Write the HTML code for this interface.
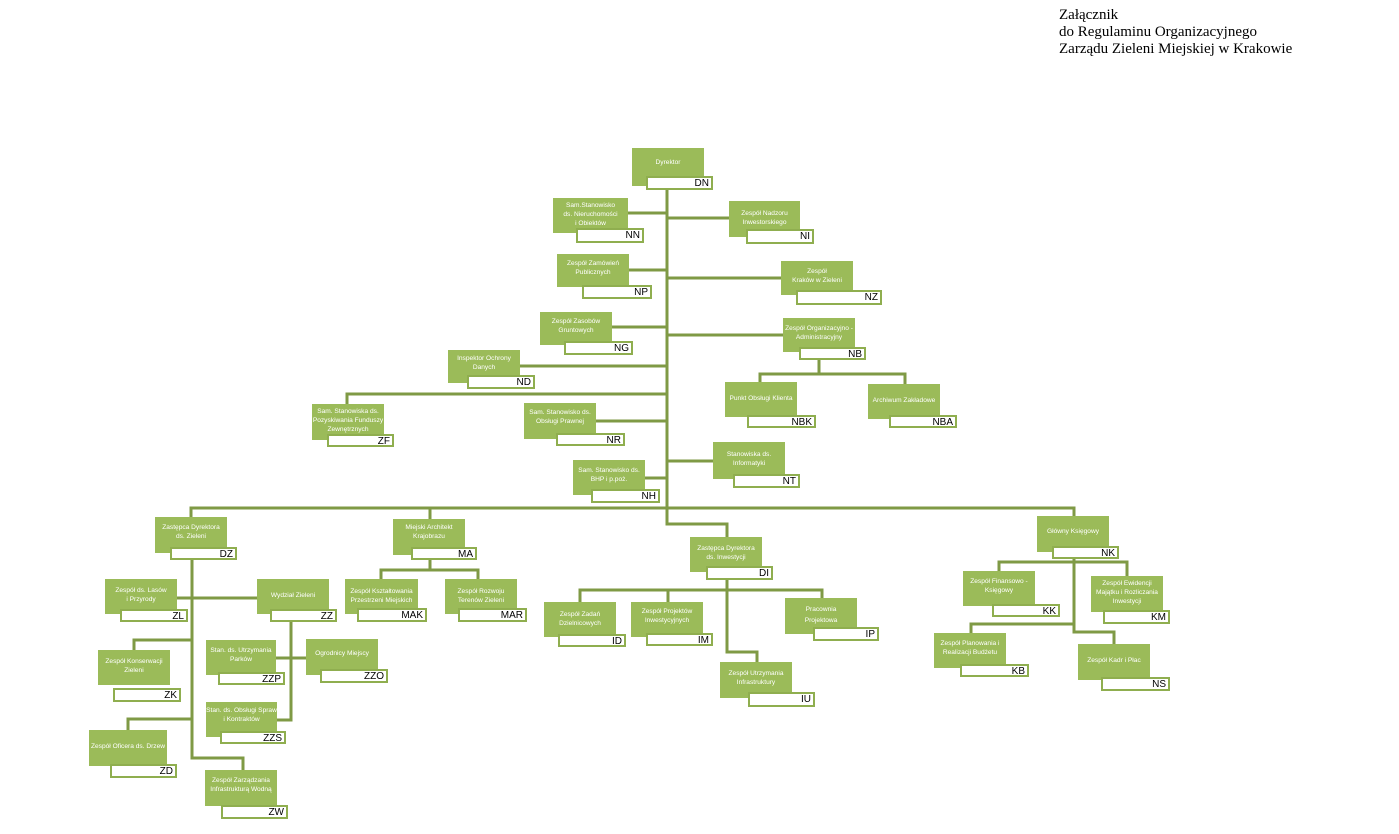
<!DOCTYPE html>
<html><head><meta charset="utf-8"><style>
body{margin:0;width:1399px;height:834px;background:#fff;position:relative;overflow:hidden;font-family:"Liberation Sans",sans-serif}
.h{position:absolute;left:1059px;top:7px;font-family:"Liberation Serif",serif;font-size:15px;line-height:17px;color:#000}
.g{position:absolute;background:#9bbb59;color:#fff;font-size:6.6px;line-height:9px;text-align:center;display:flex;align-items:flex-start;justify-content:center;box-sizing:border-box;padding-top:8px;white-space:nowrap}
.c{position:absolute;background:#fff;border:2px solid #8fae4f;box-sizing:border-box;font-size:10px;line-height:11px;text-align:right;padding-right:2px;color:#000}
svg{position:absolute;left:0;top:0}
</style></head><body>
<div class="h">Załącznik<br>do Regulaminu Organizacyjnego<br>Zarządu Zieleni Miejskiej w Krakowie</div>
<svg width="1399" height="834"><g stroke="#7f9a45" stroke-width="3" fill="none">
<path d="M667 186V524H727V537"/>
<path d="M628 213H667M667 218H729M629 270H667M667 278H781M612 327H667M667 335H783M520 366H667"/>
<path d="M347 404V394H667M596 421H667M667 461H713M645 478H667"/>
<path d="M819 360V374M760 383V374H905V384"/>
<path d="M191 517V508H1074V516M430 508V519"/>
<path d="M192 559V758H243V770M177 598H257M134 650V640H192M128 730V719H192"/>
<path d="M291 622V720H277M276 658H306"/>
<path d="M430 559V570M381 579V570H478V579"/>
<path d="M727 579V590M580 602V590H822V598M668 590V602M727 590V652H757V662"/>
<path d="M1074 559V632H1114V644M999 571V562H1127V576M971 633V624H1074"/>
</g></svg>

<div class="g" style="left:632px;top:148px;width:72px;height:38px;padding-top:10px">Dyrektor</div><div class="c" style="left:646px;top:176px;width:67px;height:14px">DN</div>
<div class="g" style="left:553px;top:198px;width:75px;height:35px;padding-top:3px">Sam.Stanowisko<br>ds. Nieruchomości<br>i Obiektów</div><div class="c" style="left:576px;top:228px;width:68px;height:15px">NN</div>
<div class="g" style="left:729px;top:201px;width:71px;height:36px">Zespół Nadzoru<br>Inwestorskiego</div><div class="c" style="left:746px;top:229px;width:68px;height:15px">NI</div>
<div class="g" style="left:557px;top:254px;width:72px;height:33px;padding-top:5px">Zespół Zamówień<br>Publicznych</div><div class="c" style="left:582px;top:285px;width:70px;height:14px">NP</div>
<div class="g" style="left:781px;top:261px;width:72px;height:34px;padding-top:6px">Zespół<br>Kraków w Zieleni</div><div class="c" style="left:796px;top:290px;width:86px;height:15px">NZ</div>
<div class="g" style="left:540px;top:312px;width:72px;height:33px;padding-top:5px">Zespół Zasobów<br>Gruntowych</div><div class="c" style="left:564px;top:341px;width:69px;height:14px">NG</div>
<div class="g" style="left:783px;top:318px;width:72px;height:34px;padding-top:6px">Zespół Organizacyjno -<br>Administracyjny</div><div class="c" style="left:799px;top:347px;width:67px;height:13px">NB</div>
<div class="g" style="left:448px;top:350px;width:72px;height:33px;padding-top:4px">Inspektor Ochrony<br>Danych</div><div class="c" style="left:467px;top:375px;width:68px;height:14px">ND</div>
<div class="g" style="left:725px;top:382px;width:72px;height:35px;padding-top:12px">Punkt Obsługi Klienta</div><div class="c" style="left:747px;top:415px;width:69px;height:13px">NBK</div>
<div class="g" style="left:868px;top:384px;width:72px;height:35px;padding-top:12px">Archiwum Zakładowe</div><div class="c" style="left:889px;top:415px;width:68px;height:13px">NBA</div>
<div class="g" style="left:312px;top:404px;width:72px;height:36px;padding-top:3px">Sam. Stanowiska ds.<br>Pozyskiwania Funduszy<br>Zewnętrznych</div><div class="c" style="left:327px;top:434px;width:67px;height:13px">ZF</div>
<div class="g" style="left:524px;top:403px;width:72px;height:36px;padding-top:5px">Sam. Stanowisko ds.<br>Obsługi Prawnej</div><div class="c" style="left:556px;top:433px;width:69px;height:13px">NR</div>
<div class="g" style="left:713px;top:442px;width:72px;height:37px;padding-top:8px">Stanowiska ds.<br>Informatyki</div><div class="c" style="left:733px;top:474px;width:67px;height:14px">NT</div>
<div class="g" style="left:573px;top:460px;width:72px;height:35px;padding-top:6px">Sam. Stanowisko ds.<br>BHP i p.poż.</div><div class="c" style="left:591px;top:489px;width:69px;height:14px">NH</div>

<div class="g" style="left:155px;top:517px;width:72px;height:36px;padding-top:6px">Zastępca Dyrektora<br>ds. Zieleni</div><div class="c" style="left:170px;top:547px;width:67px;height:13px">DZ</div>
<div class="g" style="left:393px;top:519px;width:72px;height:36px;padding-top:4px">Miejski Architekt<br>Krajobrazu</div><div class="c" style="left:411px;top:547px;width:66px;height:13px">MA</div>
<div class="g" style="left:690px;top:537px;width:72px;height:35px;padding-top:7px">Zastępca Dyrektora<br>ds. Inwestycji</div><div class="c" style="left:706px;top:566px;width:67px;height:14px">DI</div>
<div class="g" style="left:1037px;top:516px;width:72px;height:36px;padding-top:11px">Główny Księgowy</div><div class="c" style="left:1052px;top:546px;width:67px;height:13px">NK</div>

<div class="g" style="left:105px;top:579px;width:72px;height:35px;padding-top:7px">Zespół ds. Lasów<br>i Przyrody</div><div class="c" style="left:120px;top:609px;width:68px;height:13px">ZL</div>
<div class="g" style="left:257px;top:579px;width:72px;height:35px;padding-top:12px">Wydział Zieleni</div><div class="c" style="left:270px;top:609px;width:67px;height:13px">ZZ</div>
<div class="g" style="left:345px;top:579px;width:73px;height:35px;padding-top:8px">Zespół Kształtowania<br>Przestrzeni Miejskich</div><div class="c" style="left:357px;top:608px;width:70px;height:14px">MAK</div>
<div class="g" style="left:445px;top:579px;width:72px;height:35px;padding-top:8px">Zespół Rozwoju<br>Terenów Zieleni</div><div class="c" style="left:458px;top:608px;width:69px;height:14px">MAR</div>
<div class="g" style="left:544px;top:602px;width:72px;height:35px;padding-top:8px">Zespół Zadań<br>Dzielnicowych</div><div class="c" style="left:558px;top:634px;width:68px;height:13px">ID</div>
<div class="g" style="left:631px;top:602px;width:72px;height:35px;padding-top:5px">Zespół Projektów<br>Inwestycyjnych</div><div class="c" style="left:646px;top:633px;width:67px;height:13px">IM</div>
<div class="g" style="left:785px;top:598px;width:72px;height:36px;padding-top:6px;line-height:11px">Pracownia<br>Projektowa</div><div class="c" style="left:813px;top:627px;width:66px;height:14px">IP</div>
<div class="g" style="left:720px;top:662px;width:72px;height:36px;padding-top:7px">Zespół Utrzymania<br>Infrastruktury</div><div class="c" style="left:748px;top:692px;width:67px;height:15px">IU</div>
<div class="g" style="left:963px;top:571px;width:72px;height:35px;padding-top:6px">Zespół Finansowo -<br>Księgowy</div><div class="c" style="left:992px;top:604px;width:68px;height:13px">KK</div>
<div class="g" style="left:1091px;top:576px;width:72px;height:36px;padding-top:3px">Zespół Ewidencji<br>Majątku i Rozliczania<br>Inwestycji</div><div class="c" style="left:1103px;top:610px;width:67px;height:14px">KM</div>
<div class="g" style="left:934px;top:633px;width:72px;height:35px;padding-top:6px">Zespół Planowania i<br>Realizacji Budżetu</div><div class="c" style="left:960px;top:664px;width:69px;height:13px">KB</div>
<div class="g" style="left:1078px;top:644px;width:72px;height:36px;padding-top:12px">Zespół Kadr i Płac</div><div class="c" style="left:1101px;top:677px;width:69px;height:14px">NS</div>

<div class="g" style="left:98px;top:650px;width:72px;height:35px;padding-top:7px">Zespół Konserwacji<br>Zieleni</div><div class="c" style="left:113px;top:688px;width:68px;height:14px">ZK</div>
<div class="g" style="left:206px;top:640px;width:70px;height:35px;padding-top:6px">Stan. ds. Utrzymania<br>Parków</div><div class="c" style="left:218px;top:672px;width:67px;height:13px">ZZP</div>
<div class="g" style="left:306px;top:639px;width:72px;height:36px;padding-top:10px">Ogrodnicy Miejscy</div><div class="c" style="left:320px;top:669px;width:68px;height:14px">ZZO</div>
<div class="g" style="left:206px;top:702px;width:71px;height:35px;padding-top:4px">Stan. ds. Obsługi Spraw<br>i Kontraktów</div><div class="c" style="left:220px;top:731px;width:66px;height:13px">ZZS</div>
<div class="g" style="left:89px;top:730px;width:78px;height:36px;padding-top:12px">Zespół Oficera ds. Drzew</div><div class="c" style="left:110px;top:764px;width:67px;height:14px">ZD</div>
<div class="g" style="left:205px;top:770px;width:72px;height:36px;padding-top:6px">Zespół Zarządzania<br>Infrastrukturą Wodną</div><div class="c" style="left:221px;top:805px;width:67px;height:14px">ZW</div>
</body></html>
